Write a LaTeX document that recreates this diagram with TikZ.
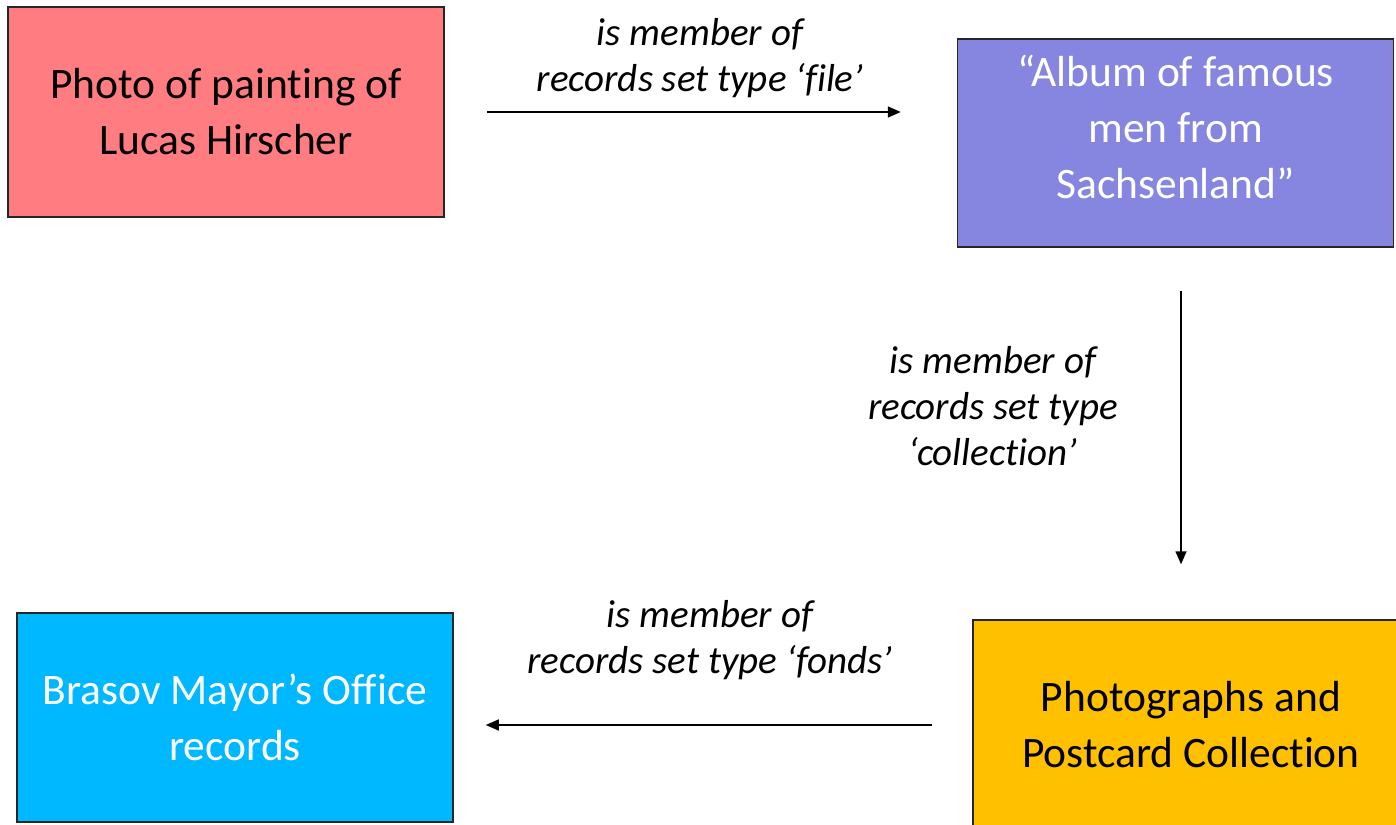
\documentclass[tikz,border=0pt]{standalone}
\usepackage{fontspec}
\setmainfont{Carlito}[RawFeature={-liga}]
\usetikzlibrary{arrows.meta}

\definecolor{photored}{HTML}{FF7C80}
\definecolor{albumblue}{HTML}{8686E0}
\definecolor{mayorblue}{HTML}{00B8FF}
\definecolor{postcardgold}{HTML}{FFC000}

\tikzset{
    recordbox/.style={draw=black!85, line width=0.75pt, minimum width=218pt,
        minimum height=105pt, inner sep=0pt, align=center,
        font=\fontsize{21.75}{28}\selectfont},
    memberlabel/.style={align=center, font=\fontsize{19.5}{23}\selectfont\itshape},
    memberof/.style={line width=0.75pt, -{Triangle[length=6.5pt,width=5.5pt]}}
}

\begin{document}
\begin{tikzpicture}[x=0.5pt,y=-0.5pt]
    \useasboundingbox (0,0) rectangle (1396,824);

    \node[recordbox, fill=photored] (photo) at (226,112)
        {Photo of painting of\\Lucas Hirscher};
    \node[recordbox, fill=albumblue, text=white, minimum height=104pt,
        text depth=16pt] (album) at (1175.5,143)
        {“Album of famous\\men from\\Sachsenland”};
    \node[recordbox, fill=postcardgold] (postcards) at (1191,725)
        {Photographs and\\Postcard Collection};
    \node[recordbox, fill=mayorblue, text=white, minimum height=104.5pt]
        (mayor) at (235,717.5) {Brasov Mayor’s Office\\records};

    \node[memberlabel] (filelabel) at (700,58)
        {is member of\\records set type ‘file’};
    \node[memberlabel] (collectionlabel) at (993,406)
        {is member of\\records set type\\‘collection’};
    \node[memberlabel] (fondslabel) at (710,640)
        {is member of\\records set type ‘fonds’};

    \draw[memberof, shorten <=21pt, shorten >=28pt]
        (photo.east) -- (photo.east -| album.west);
    \draw[memberof, shorten <=21.5pt, shorten >=27.5pt]
        ([xshift=2.75pt]album.south) -- ([xshift=2.75pt]album.south |- postcards.north);
    \draw[memberof, shorten <=20pt, shorten >=16pt]
        (postcards.west) -- (postcards.west -| mayor.east);
\end{tikzpicture}
\end{document}
